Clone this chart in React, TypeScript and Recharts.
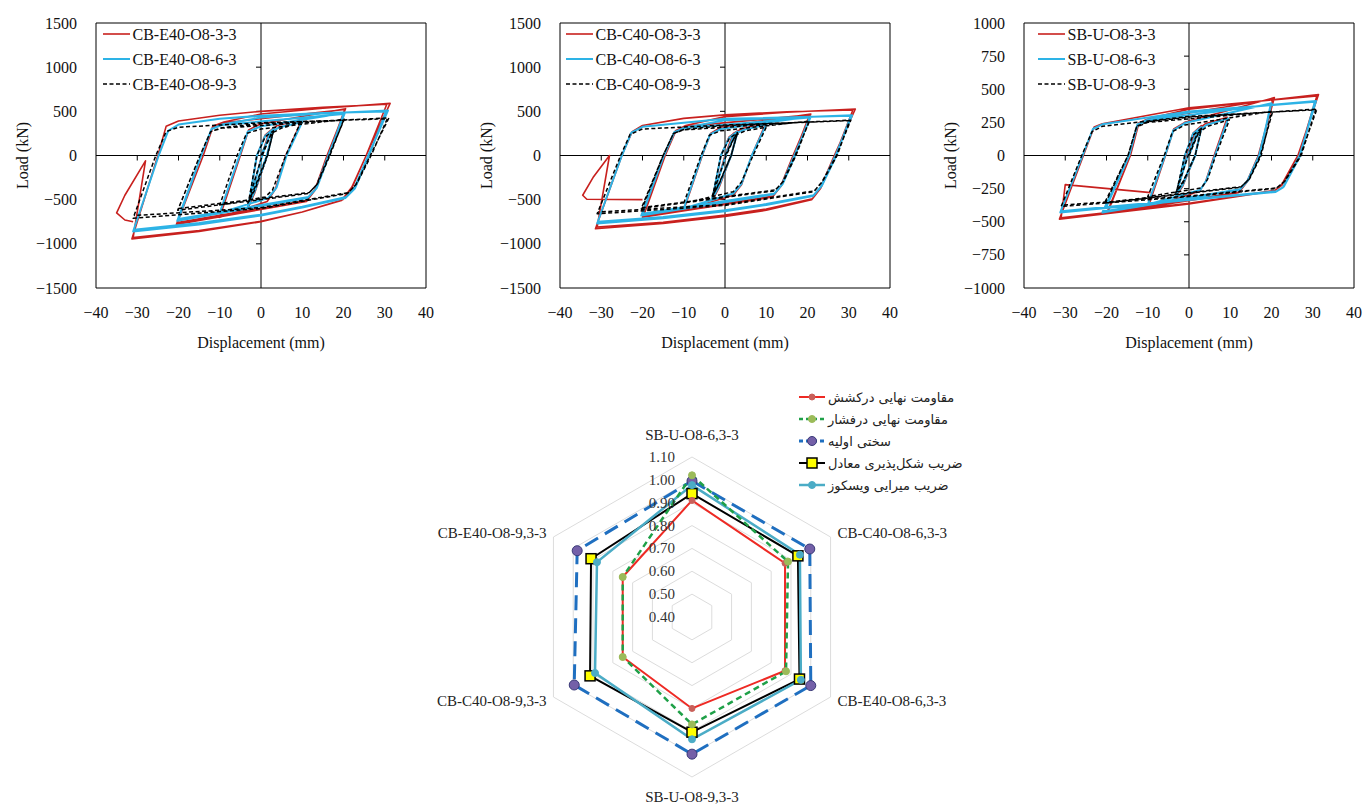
import React from "react";
import {
  LineChart, Line, XAxis, YAxis, ReferenceLine, ReferenceArea, Label,
  RadarChart, Radar, PolarGrid, PolarAngleAxis, PolarRadiusAxis,
} from "recharts";

type Pt = [number, number];

// load–displacement loops (mm, kN), CB-E40 group
const e40_3: Pt[] = [
  [0, 0], [2, 220], [3, 300], [1.5, 0], [-1.5, -400], [-3, -580], [-1, 0], [1, 230], [3, 310], [1.5, 0], [-1.5, -420], [-3.2, -600],
  [0.2, 0], [2, 270], [4, 340], [10, 410], [6, 0], [3.5, -380], [1.5, -520], [-10, -700],
  [-5, 0], [-3, 290], [0, 360], [20.5, 530], [16, 0], [13, -400], [11, -520], [-20.5, -780],
  [-14, 0], [-11.7, 320], [-9, 370], [20.3, 520], [16.2, 0], [13, -390], [11, -510], [-20.3, -760],
  [-14, 0], [-11.7, 330], [-9, 380], [0, 470], [15, 535], [31.3, 590], [25.5, 0], [22.2, -350], [19.8, -500], [10, -640], [0, -750], [-15, -860], [-31.3, -945],
  [-25, 0], [-23, 330], [-20, 390], [-10, 455], [0, 500], [15, 545], [30.5, 580], [25.5, 0], [22, -360], [19.5, -510], [10, -640], [0, -745], [-15, -850], [-31, -930],
  [-28, -60], [-33, -450], [-35, -650], [-33, -730], [-31, -750],
];
const e40_6: Pt[] = [
  [0, 0], [2, 210], [3, 290], [1.4, 0], [-1.6, -380], [-3, -560], [-1, 0], [1, 220], [3, 300], [1.5, 0], [-1.5, -400], [-3.2, -580],
  [0.3, 0], [2.2, 260], [4.5, 320], [10, 380], [6.2, 0], [3.8, -360], [1.8, -480], [-10, -650],
  [-5.2, 0], [-3.2, 270], [0, 330], [20.3, 480], [16.3, 0], [13.3, -380], [11.3, -480], [-20.3, -740],
  [-14.5, 0], [-12, 300], [-9.5, 345], [20, 470], [16.5, 0], [13.5, -370], [11.5, -470], [-20, -720],
  [-14.5, 0], [-12, 300], [-9.5, 350], [0, 430], [15, 475], [30.8, 510], [26, 0], [22.5, -380], [20.5, -480], [10, -590], [0, -680], [-15, -780], [-31, -860],
  [-24.8, 0], [-22.5, 280], [-20, 350], [-10, 415], [0, 450], [15, 480], [30.3, 498], [26.2, 0], [22.8, -370], [20.7, -470], [10, -580], [0, -670], [-15, -765], [-30.8, -840],
];
const e40_9: Pt[] = [
  [0, 0], [2, 200], [3, 270], [1.5, 0], [-1.5, -360], [-3, -520], [-1, 0], [1, 210], [3, 280], [1.6, 0], [-1.4, -380], [-3.2, -540],
  [0.3, 0], [2.5, 250], [5, 310], [9.5, 366], [6, 0], [2.8, -390], [1, -470], [-10, -560],
  [-5.8, 0], [-3.5, 250], [0, 300], [20.2, 410], [16.5, 0], [13.5, -330], [11.5, -430], [-20.2, -620],
  [-14.8, 0], [-12.2, 270], [-9.5, 310], [20, 400], [16.7, 0], [13.7, -320], [11.7, -420], [-20, -600],
  [-14.8, 0], [-12.2, 270], [-9.5, 315], [0, 360], [31, 425], [26.5, 0], [23, -330], [21, -430], [0, -600], [-31, -710],
  [-25.5, 0], [-23, 270], [-20, 320], [0, 370], [30.6, 415], [26.7, 0], [23.2, -320], [21.2, -420], [0, -590], [-30.8, -680],
];

// CB-C40 group
const c40_3: Pt[] = [
  [0, 0], [2, 200], [3, 270], [1.5, 0], [-1.5, -360], [-3, -500], [-1, 0], [1, 210], [3, 280], [1.5, 0], [-1.5, -370], [-3.2, -520],
  [0, 0], [2, 250], [4, 300], [10, 380], [6.5, 0], [4, -330], [2, -450], [-10, -620],
  [-5.5, 0], [-3.5, 250], [-1, 320], [20.8, 470], [16.5, 0], [13.5, -350], [11.5, -470], [-20, -700],
  [-14.5, 0], [-12, 270], [-9.5, 330], [20.5, 460], [16.7, 0], [13.7, -340], [11.7, -460], [-19.7, -680],
  [-14.5, 0], [-12, 280], [-9.5, 340], [0, 440], [15, 490], [31.6, 526], [26.5, 0], [23, -380], [21, -500], [10, -620], [0, -690], [-15, -770], [-31.4, -830],
  [-25, 0], [-22.5, 270], [-20, 340], [-10, 420], [0, 460], [15, 495], [31, 515], [26.7, 0], [23.2, -370], [21.2, -490], [10, -605], [0, -675], [-15, -755], [-31, -810],
  [-28, 0], [-32, -250], [-34.5, -450], [-33.5, -495], [-20, -500],
];
const c40_6: Pt[] = [
  [0, 0], [2, 190], [3, 260], [1.5, 0], [-1.5, -340], [-3, -480], [-1, 0], [1, 200], [3, 270], [1.5, 0], [-1.5, -350], [-3.2, -500],
  [0.2, 0], [2.2, 240], [4.5, 290], [10, 350], [6.5, 0], [4, -320], [2, -430], [-10, -600],
  [-5.6, 0], [-3.6, 240], [-1, 300], [20.8, 440], [16.8, 0], [13.8, -330], [11.8, -440], [-20.3, -680],
  [-14.8, 0], [-12.3, 260], [-9.8, 310], [20.5, 430], [17, 0], [14, -320], [12, -430], [-20, -660],
  [-14.8, 0], [-12.3, 265], [-9.8, 315], [0, 400], [30.8, 455], [26.8, 0], [23.3, -350], [21.3, -460], [10, -560], [0, -630], [-15, -710], [-31, -770],
  [-25, 0], [-22.7, 260], [-20, 325], [0, 415], [30.5, 450], [27, 0], [23.5, -340], [21.5, -450], [10, -550], [0, -620], [-15, -695], [-30.8, -750],
];
const c40_9: Pt[] = [
  [0, 0], [2, 180], [3, 250], [1.5, 0], [-1.5, -320], [-3, -460], [-1, 0], [1, 190], [3, 260], [1.5, 0], [-1.5, -330], [-3.2, -470],
  [0.3, 0], [2.5, 230], [5, 280], [10, 320], [6.8, 0], [4, -300], [2, -410], [-10, -540],
  [-5.8, 0], [-3.8, 230], [-1, 280], [20.5, 390], [17, 0], [14, -300], [12, -400], [-20.3, -600],
  [-15, 0], [-12.5, 250], [-10, 290], [20.3, 380], [17.2, 0], [14.2, -290], [12.2, -390], [-20, -590],
  [-15, 0], [-12.5, 250], [-10, 295], [0, 340], [30.5, 400], [27, 0], [23.5, -300], [21.5, -410], [0, -565], [-31, -660],
  [-25.3, 0], [-23, 240], [-20, 300], [0, 345], [30.2, 395], [27.2, 0], [23.7, -290], [21.7, -400], [0, -555], [-30.8, -640],
];

// SB-U group
const u_3: Pt[] = [
  [0, 0], [2, 170], [3, 220], [1.5, 0], [-1.5, -220], [-3, -300], [-1, 0], [1, 170], [3, 225], [1.5, 0], [-1.5, -230], [-3.2, -310],
  [-0.5, 0], [1.5, 180], [4, 240], [9.3, 289], [6.1, 0], [4, -200], [2.5, -270], [-10, -400],
  [-5.7, 0], [-3.7, 200], [-1, 250], [20.7, 437], [16.8, 0], [14, -200], [12, -280], [-20, -440],
  [-14.2, 0], [-12.2, 240], [-10, 270], [20.3, 425], [17, 0], [14.2, -195], [12.2, -275], [-19.7, -430],
  [-14.2, 0], [-12.2, 245], [-10, 275], [0, 350], [31.4, 460], [26.4, 0], [22.3, -230], [20.7, -267], [0, -365], [-31.4, -480],
  [-25.6, 0], [-23, 215], [-21, 240], [0, 360], [31, 450], [26.6, 0], [22.5, -225], [20.9, -262], [0, -360], [-31, -470],
  [-30, -220], [-9.3, -280],
];
const u_6: Pt[] = [
  [0, 0], [2, 160], [3, 210], [1.5, 0], [-1.5, -210], [-3, -290], [-1, 0], [1, 165], [3, 215], [1.5, 0], [-1.5, -220], [-3.2, -300],
  [-0.3, 0], [1.8, 170], [4.2, 230], [9.5, 280], [6.3, 0], [4.2, -190], [2.7, -260], [-10, -370],
  [-5.8, 0], [-3.8, 190], [-1, 245], [20, 395], [17, 0], [14.2, -190], [12.2, -260], [-21, -430],
  [-14.5, 0], [-12.5, 230], [-10, 265], [19.8, 385], [17.2, 0], [14.4, -185], [12.4, -255], [-20.5, -420],
  [-14.5, 0], [-12.5, 235], [-10, 270], [0, 325], [30.8, 412], [26.8, 0], [22.8, -240], [21, -275], [0, -335], [-31.2, -430],
  [-25.8, 0], [-23.3, 200], [-21, 235], [0, 333], [30.5, 405], [27, 0], [23, -235], [21.2, -270], [0, -330], [-31, -420],
];
const u_9: Pt[] = [
  [0, 0], [2, 150], [3, 200], [1.5, 0], [-1.5, -200], [-3, -270], [-1, 0], [1, 155], [3, 205], [1.5, 0], [-1.5, -210], [-3.2, -280],
  [-0.2, 0], [2, 165], [4.5, 220], [9.8, 270], [6.5, 0], [4.5, -180], [3, -245], [-10, -310],
  [-6, 0], [-4, 180], [-1, 230], [20.3, 335], [17.3, 0], [14.5, -180], [12.5, -240], [-20.5, -360],
  [-14.8, 0], [-12.7, 215], [-10, 250], [20, 330], [17.5, 0], [14.7, -175], [12.7, -235], [-20.2, -355],
  [-14.8, 0], [-12.7, 220], [-10, 255], [0, 290], [31, 350], [27, 0], [23, -200], [21, -250], [0, -310], [-31, -385],
  [-26, 0], [-23.5, 180], [-21, 220], [0, 295], [30.7, 345], [27.2, 0], [23.2, -195], [21.2, -245], [0, -305], [-30.8, -375],
];

const e40Names = ["CB-E40-O8-3-3", "CB-E40-O8-6-3", "CB-E40-O8-9-3"];
const c40Names = ["CB-C40-O8-3-3", "CB-C40-O8-6-3", "CB-C40-O8-9-3"];
const uNames = ["SB-U-O8-3-3", "SB-U-O8-6-3", "SB-U-O8-9-3"];

const xTicks = [-40, -30, -20, -10, 0, 10, 20, 30, 40];
const cbTicks = [-1500, -1000, -500, 0, 500, 1000, 1500];
const sbTicks = [-1000, -750, -500, -250, 0, 250, 500, 750, 1000];

// radar: normalised ratios per specimen pair
const radarAxes = ["SB-U-O8-6,3-3", "CB-C40-O8-6,3-3", "CB-E40-O8-6,3-3", "SB-U-O8-9,3-3", "CB-C40-O8-9,3-3", "CB-E40-O8-9,3-3"];
const radarTicks = [0.4, 0.5, 0.6, 0.7, 0.8, 0.9, 1.0, 1.1];
const tension = [0.91, 0.87, 0.87, 0.8, 0.75, 0.75];
const compression = [1.02, 0.885, 0.875, 0.87, 0.75, 0.75];
const stiffness = [0.995, 0.995, 1.0, 1.0, 0.995, 0.98];
const ductility = [0.94, 0.935, 0.943, 0.904, 0.915, 0.91];
const damping = [0.977, 0.945, 0.95, 0.935, 0.89, 0.88];
const radarNames = ["مقاومت نهایی درکشش", "مقاومت نهایی درفشار", "سختی اولیه", "ضریب شکل‌پذیری معادل", "ضریب میرایی ویسکوز"];

const SERIF = "'Liberation Serif', 'Times New Roman', serif";
const RED = "#c8201e";
const BLUE = "#2db3e6";
const loopStyles = [
  { stroke: RED, width: 1.6, dash: undefined as string | undefined },
  { stroke: BLUE, width: 2, dash: undefined as string | undefined },
  { stroke: "#000", width: 1.5, dash: "4 2.5" },
];

const fmt = (v: number) => String(v).replace("-", "\u2212");
const toRows = (pts: Pt[]) => pts.map(([x, y]) => ({ x, y }));

const XTick = (p: any) => (
  <text x={p.x} y={p.y} dy="0.71em" textAnchor="middle" fontSize={16} style={{ fontFamily: SERIF }} fill="#111">{fmt(p.payload.value)}</text>
);
const YTick = (p: any) => (
  <text x={p.x} y={p.y} textAnchor="end" dominantBaseline="central" fontSize={16} style={{ fontFamily: SERIF }} fill="#111">{fmt(p.payload.value)}</text>
);

function HystChart({ left, loops, names, yTicks, legendDx }: { left: number; loops: Pt[][]; names: string[]; yTicks: number[]; legendDx: number }) {
  const W = 440, H = 360, PL = 96, PT = 23, PW = 330, PH = 265;
  const yMin = yTicks[0], yMax = yTicks[yTicks.length - 1];
  const markMm = (5 * 80) / PW;          // 5px tick on the x=0 line, in mm
  const markKn = (5 * (yMax - yMin)) / PH; // 5px tick on the y=0 line, in kN
  return (
    <div style={{ position: "absolute", left, top: 0, width: W, height: H }}>
      <LineChart width={W} height={H} margin={{ top: PT, right: W - PL - PW, bottom: 22, left: 40 }} style={{ fontFamily: SERIF }}>
        <XAxis type="number" dataKey="x" domain={[-40, 40]} ticks={xTicks} interval={0} axisLine={false} tickLine={false}
          tickMargin={13} height={50} tick={XTick} allowDataOverflow>
          <Label content={() => (
            <text x={PL + PW / 2} y={342} textAnchor="middle" dominantBaseline="central" fontSize={16} style={{ fontFamily: SERIF }} fill="#111">Displacement (mm)</text>
          )} />
        </XAxis>
        <YAxis type="number" domain={[yMin, yMax]} ticks={yTicks} interval={0} axisLine={false} tickLine={false}
          tickMargin={13} width={56} tick={YTick} allowDataOverflow>
          <Label content={() => (
            <text x={22} y={PT + PH / 2} transform={`rotate(-90 22 ${PT + PH / 2})`} textAnchor="middle" dominantBaseline="central" fontSize={16} style={{ fontFamily: SERIF }} fill="#111">Load (kN)</text>
          )} />
        </YAxis>
        <ReferenceArea x1={-40} x2={40} y1={yMin} y2={yMax} fill="none" fillOpacity={0} stroke="#000" strokeWidth={1} />
        <ReferenceLine x={0} stroke="#000" strokeWidth={1} />
        <ReferenceLine y={0} stroke="#000" strokeWidth={1} />
        {yTicks.filter((t) => t !== 0 && t !== yMin && t !== yMax).map((t) => (
          <ReferenceLine key={"ym" + t} segment={[{ x: -markMm, y: t }, { x: 0, y: t }]} stroke="#000" strokeWidth={1} />
        ))}
        {xTicks.filter((t) => t !== 0 && Math.abs(t) !== 40).map((t) => (
          <ReferenceLine key={"xm" + t} segment={[{ x: t, y: 0 }, { x: t, y: -markKn }]} stroke="#000" strokeWidth={1} />
        ))}
        {loops.map((pts, i) => (
          <Line key={names[i]} name={names[i]} data={toRows(pts)} dataKey="y" type="linear" dot={false} activeDot={false}
            stroke={loopStyles[i].stroke} strokeWidth={loopStyles[i].width} strokeDasharray={loopStyles[i].dash}
            strokeLinejoin="round" isAnimationActive={false} />
        ))}
      </LineChart>
      <svg style={{ position: "absolute", left: PL + legendDx, top: 22 }} width={180} height={75}>
        {names.map((n, i) => (
          <g key={n}>
            <line x1={0} x2={27} y1={12 + 25 * i} y2={12 + 25 * i} stroke={loopStyles[i].stroke} strokeWidth={loopStyles[i].width} strokeDasharray={loopStyles[i].dash} />
            <text x={29.5} y={12 + 25 * i} dominantBaseline="central" fontSize={16} style={{ fontFamily: SERIF }} fill="#111">{n}</text>
          </g>
        ))}
      </svg>
    </div>
  );
}

const CX = 260, CY = 240;

const AngleTick = (p: any) => {
  const { x, y, payload } = p;
  const dx = x - CX;
  let anchor: "start" | "end" | "middle" = "middle";
  let ty = y;
  if (dx > 1) anchor = "start";
  else if (dx < -1) anchor = "end";
  else ty = y < CY ? y - 14 : y + 12;
  return (
    <text x={x} y={ty} textAnchor={anchor} dominantBaseline="central" fontSize={15} style={{ fontFamily: SERIF }} fill="#222">{payload.value}</text>
  );
};

const RadiusTick = (p: any) => (
  <text x={p.x - 17} y={p.y} textAnchor="end" dominantBaseline="central" fontSize={15} style={{ fontFamily: SERIF }} fill="#333">
    {Number(p.payload.value).toFixed(2)}
  </text>
);

const circleDot = (r: number, fill: string, stroke: string) => (p: any) => (
  <circle key={`c${r}-${p.index}`} cx={p.cx} cy={p.cy} r={r} fill={fill} stroke={stroke} strokeWidth={1} />
);
const squareDot = (p: any) => (
  <rect key={`s-${p.index}`} x={p.cx - 5} y={p.cy - 5} width={10} height={10} fill="#ffff00" stroke="#000" strokeWidth={1.5} />
);

const radarStyles = [
  { stroke: "#ee2a24", width: 2, dash: undefined as string | undefined, marker: "circle", r: 3, fill: "#c9605a", edge: "#c9605a" },
  { stroke: "#1fa048", width: 2.5, dash: "6 4", marker: "circle", r: 3.5, fill: "#9bbb59", edge: "#9bbb59" },
  { stroke: "#1f6fc0", width: 3, dash: "15 8", marker: "circle", r: 5, fill: "#7460a8", edge: "#3a3a78" },
  { stroke: "#000", width: 2, dash: undefined as string | undefined, marker: "square", r: 5, fill: "#ffff00", edge: "#000" },
  { stroke: "#4bacc6", width: 2.5, dash: undefined as string | undefined, marker: "circle", r: 3.5, fill: "#4bacc6", edge: "#4bacc6" },
];

function RadarPanel() {
  const keys = ["tension", "compression", "stiffness", "ductility", "damping"];
  const rows = radarAxes.map((axis, i) => ({
    axis, tension: tension[i], compression: compression[i], stiffness: stiffness[i], ductility: ductility[i], damping: damping[i],
  }));
  const order = [2, 3, 4, 0, 1];
  return (
    <div style={{ position: "absolute", left: 432, top: 377, width: 520, height: 428 }}>
      <RadarChart width={520} height={428} cx={CX} cy={CY} outerRadius={160} data={rows} margin={{ top: 0, right: 0, bottom: 0, left: 0 }}>
        <PolarGrid gridType="polygon" radialLines={false} stroke="#dcdcdc" />
        <PolarAngleAxis dataKey="axis" tick={AngleTick} tickLine={false} axisLine={false} />
        <PolarRadiusAxis type="number" angle={90} domain={[radarTicks[0], radarTicks[radarTicks.length - 1]]}
          tickCount={radarTicks.length} allowDecimals axisLine={false} tickLine={false} tick={RadiusTick} />
        {order.map((i) => {
          const s = radarStyles[i];
          return (
            <Radar key={keys[i]} name={radarNames[i]} dataKey={keys[i]} stroke={s.stroke} strokeWidth={s.width} strokeDasharray={s.dash}
              fill="none" fillOpacity={0} isAnimationActive={false}
              dot={s.marker === "square" ? squareDot : circleDot(s.r, s.fill, s.edge)} />
          );
        })}
      </RadarChart>
      <svg style={{ position: "absolute", left: 365, top: 8 }} width={175} height={115}>
        {radarNames.map((n, i) => {
          const s = radarStyles[i];
          const y = 12 + 22 * i;
          return (
            <g key={n}>
              <line x1={2} x2={28} y1={y} y2={y} stroke={s.stroke} strokeWidth={s.width} strokeDasharray={s.dash ? "4 3" : undefined} />
              {s.marker === "square"
                ? <rect x={10} y={y - 5} width={10} height={10} fill="#ffff00" stroke="#000" strokeWidth={1.5} />
                : <circle cx={15} cy={y} r={Math.min(s.r, 4.5)} fill={s.fill} stroke={s.edge} strokeWidth={1} />}
              <text x={31} y={y} dominantBaseline="central" fontSize={13} fontFamily="'DejaVu Sans', sans-serif" fill="#222">{n}</text>
            </g>
          );
        })}
      </svg>
    </div>
  );
}

export default function App() {
  return (
    <div style={{ position: "absolute", left: 0, top: 0, width: 1365, height: 805, overflow: "hidden", background: "#fff", fontFamily: SERIF }}>
      <HystChart left={0} loops={[e40_3, e40_6, e40_9]} names={e40Names} yTicks={cbTicks} legendDx={7} />
      <HystChart left={464} loops={[c40_3, c40_6, c40_9]} names={c40Names} yTicks={cbTicks} legendDx={6} />
      <HystChart left={928} loops={[u_3, u_6, u_9]} names={uNames} yTicks={sbTicks} legendDx={14} />
      <RadarPanel />
    </div>
  );
}
